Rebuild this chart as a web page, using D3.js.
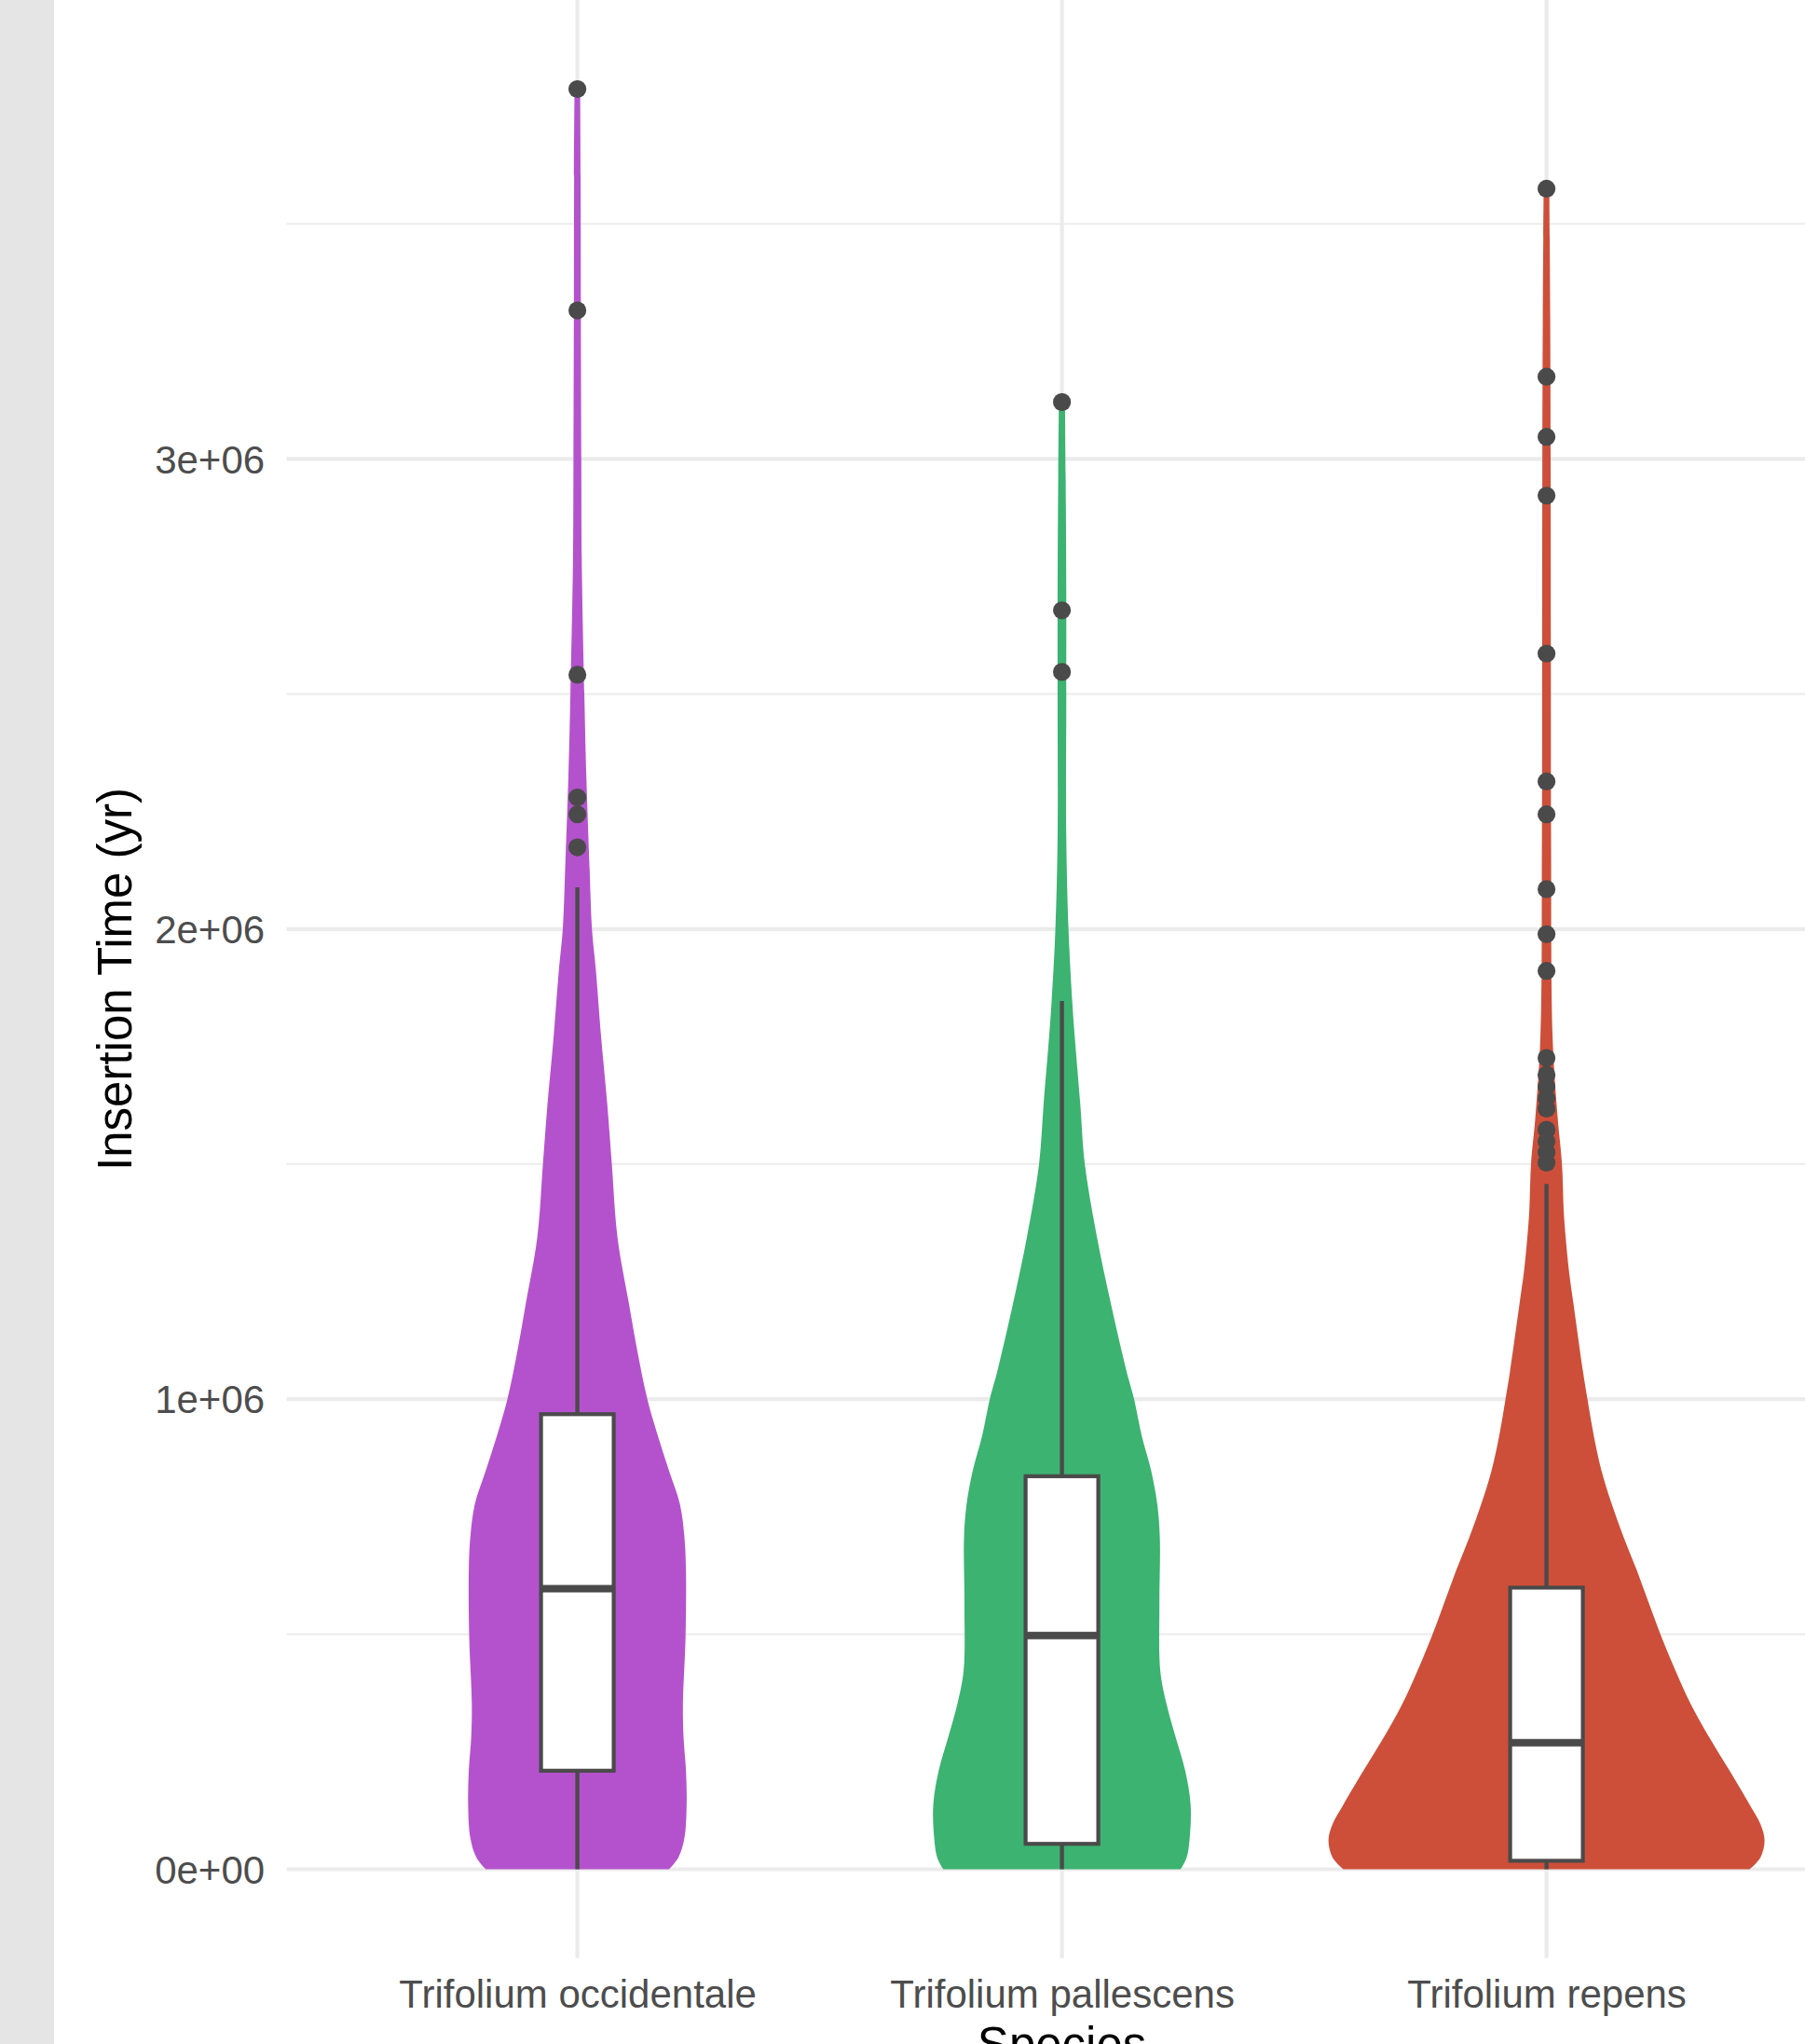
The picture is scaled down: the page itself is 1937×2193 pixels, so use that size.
<!DOCTYPE html>
<html>
<head>
<meta charset="utf-8">
<script src="https://cdn.jsdelivr.net/npm/d3@7"></script>
<style>
  html, body { margin: 0; padding: 0; background: #ffffff; }
  svg { display: block; }
  text { font-family: "Liberation Sans", Arial, sans-serif; }
</style>
</head>
<body>
<svg id="chart" width="1937" height="2193"></svg>
<script>
// ---- data (insertion times in years) ----
const species = ["Trifolium occidentale", "Trifolium pallescens", "Trifolium repens"];
const fills = ["#b452cd", "#3cb371", "#cd4f39"];

// kernel density profiles: [insertion time (Myr), relative density]
const densOccidentale = [
  [0, 0.420], [0.025, 0.463], [0.067, 0.491], [0.138, 0.501], [0.21, 0.498],
  [0.28, 0.487], [0.351, 0.484], [0.493, 0.496], [0.635, 0.498], [0.706, 0.491],
  [0.777, 0.470], [0.848, 0.420], [0.922, 0.369], [1.0, 0.321], [1.1, 0.276],
  [1.202, 0.237], [1.344, 0.184], [1.5, 0.158], [1.628, 0.137], [1.77, 0.109],
  [1.912, 0.085], [2.0, 0.067], [2.128, 0.056], [2.327, 0.041], [2.498, 0.032],
  [2.787, 0.020], [3.0, 0.018], [3.316, 0.016], [3.6, 0.015], [3.787, 0.013]
];
const densPallescens = [
  [0, 0.544], [0.025, 0.572], [0.067, 0.586], [0.138, 0.590], [0.21, 0.565],
  [0.28, 0.522], [0.351, 0.480], [0.422, 0.451], [0.564, 0.447], [0.706, 0.449],
  [0.777, 0.437], [0.848, 0.409], [0.922, 0.366], [1.0, 0.331], [1.06, 0.296],
  [1.202, 0.225], [1.344, 0.161], [1.5, 0.105], [1.628, 0.084], [1.77, 0.059],
  [1.841, 0.048], [2.0, 0.030], [2.194, 0.020], [2.5, 0.020], [2.7, 0.020],
  [2.9, 0.018], [3.121, 0.014]
];
const densRepens = [
  [0, 0.931], [0.025, 0.981], [0.061, 1.000], [0.096, 0.981], [0.138, 0.931],
  [0.21, 0.839], [0.28, 0.747], [0.351, 0.662], [0.422, 0.592], [0.493, 0.528],
  [0.564, 0.471], [0.635, 0.415], [0.706, 0.354], [0.777, 0.299], [0.848, 0.252],
  [0.922, 0.217], [1.0, 0.188], [1.06, 0.167], [1.202, 0.124], [1.273, 0.103],
  [1.344, 0.088], [1.4, 0.079], [1.5, 0.071], [1.6, 0.051], [1.77, 0.028],
  [2.194, 0.021], [2.6, 0.020], [3.0, 0.019], [3.3, 0.017], [3.575, 0.013]
];
const densities = [densOccidentale, densPallescens, densRepens];

// boxplot statistics (Myr)
const whiskerLow  = [0.0, 0.0, 0.0];
const q1          = [0.2096, 0.054, 0.018];
const median      = [0.597, 0.497, 0.269];
const q3          = [0.968, 0.836, 0.599];
const whiskerHigh = [2.089, 1.847, 1.458];

// outlying insertions (Myr)
const outOccidentale = [3.787, 3.316, 2.541, 2.280, 2.244, 2.174];
const outPallescens  = [3.121, 2.678, 2.547];
const outRepens      = [3.575, 3.175, 3.047, 2.922, 2.586, 2.314, 2.244, 2.085,
                        1.989, 1.911, 1.726, 1.690, 1.665, 1.640, 1.618,
                        1.573, 1.548, 1.525, 1.503];
const outliers = [outOccidentale, outPallescens, outRepens];

const yTicksMajor = [0, 1e6, 2e6, 3e6];
const yTicksMinor = [0.5e6, 1.5e6, 2.5e6, 3.5e6];

const MYR = 1e6;

// ---- layout ----
const svg = d3.select("#chart");
const W = 1937, H = 2193;
const panel = { left: 307.6, right: 1971.6, top: 0, bottom: 2101 };

svg.append("rect").attr("x", 0).attr("y", 0).attr("width", W).attr("height", H).attr("fill", "#ffffff");
svg.append("rect").attr("x", 0).attr("y", 0).attr("width", 58).attr("height", H).attr("fill", "#e5e5e5");

const x = d3.scalePoint().domain(species).range([panel.left, panel.right]).padding(0.6);
const step = x.step();

const allVals = densities.flat().map(d => d[0] * MYR).concat(outliers.flat().map(v => v * MYR));
const yMin = d3.min(allVals), yMax = d3.max(allVals);
const pad = (yMax - yMin) * 0.05;
const y = d3.scaleLinear().domain([yMin - pad, yMax + pad]).range([panel.bottom, panel.top]);

const maxDens = d3.max(densities.flat(), d => d[1]);
const halfW = d3.scaleLinear().domain([0, maxDens]).range([0, 0.45 * step]);

// ---- grid ----
const grid = svg.append("g");
grid.selectAll("line.minor").data(yTicksMinor).join("line")
  .attr("x1", panel.left).attr("x2", W)
  .attr("y1", d => y(d)).attr("y2", d => y(d))
  .attr("stroke", "#ededed").attr("stroke-width", 2.2);
grid.selectAll("line.major").data(yTicksMajor).join("line")
  .attr("x1", panel.left).attr("x2", W)
  .attr("y1", d => y(d)).attr("y2", d => y(d))
  .attr("stroke", "#ebebeb").attr("stroke-width", 4.2);
grid.selectAll("line.vert").data(species).join("line")
  .attr("x1", d => x(d)).attr("x2", d => x(d))
  .attr("y1", panel.top).attr("y2", panel.bottom)
  .attr("stroke", "#ebebeb").attr("stroke-width", 4.2);

// ---- axes ----
const sci = v => {
  const [m, e] = v.toExponential(0).split("e");
  const sign = e[0] === "-" ? "-" : "+";
  const digits = e.replace(/[+-]/, "").padStart(2, "0");
  return m + "e" + sign + digits;
};

const yAxis = svg.append("g")
  .attr("transform", `translate(${panel.left},0)`)
  .call(d3.axisLeft(y).tickValues(yTicksMajor).tickFormat(sci).tickSize(0).tickPadding(23.5));
yAxis.select(".domain").remove();
yAxis.selectAll("text")
  .attr("fill", "#4d4d4d").attr("font-size", 42)
  .attr("font-family", "Liberation Sans, Arial, sans-serif")
  .attr("dy", "0.35em");

const xAxis = svg.append("g")
  .attr("transform", `translate(0,${panel.bottom})`)
  .call(d3.axisBottom(x).tickSize(0).tickPadding(23.5));
xAxis.select(".domain").remove();
xAxis.selectAll("text")
  .attr("fill", "#4d4d4d").attr("font-size", 42)
  .attr("font-family", "Liberation Sans, Arial, sans-serif")
  .attr("dy", "0.71em");

svg.append("text")
  .attr("transform", `translate(141,${(panel.top + panel.bottom) / 2}) rotate(-90)`)
  .attr("text-anchor", "middle")
  .attr("font-size", 51).attr("fill", "#000000")
  .text("Insertion Time (yr)");

svg.append("text")
  .attr("x", (panel.left + panel.right) / 2).attr("y", 2211)
  .attr("text-anchor", "middle")
  .attr("font-size", 51).attr("fill", "#000000")
  .text("Species");

// ---- violins ----
const plot = svg.append("g");
species.forEach((sp, i) => {
  const cx = x(sp);
  const area = d3.area()
    .curve(d3.curveCatmullRom.alpha(0.5))
    .y(d => y(d[0] * MYR))
    .x0(d => cx - halfW(d[1]))
    .x1(d => cx + halfW(d[1]));
  plot.append("path")
    .datum(densities[i])
    .attr("d", area)
    .attr("fill", fills[i]);
});

// ---- boxplots ----
const boxHalf = 0.075 * step;
const ink = "#4a4a4a";
species.forEach((sp, i) => {
  const cx = x(sp);
  const g = plot.append("g");
  g.append("line")
    .attr("x1", cx).attr("x2", cx)
    .attr("y1", y(q3[i] * MYR)).attr("y2", y(whiskerHigh[i] * MYR))
    .attr("stroke", ink).attr("stroke-width", 4.4);
  g.append("line")
    .attr("x1", cx).attr("x2", cx)
    .attr("y1", y(q1[i] * MYR)).attr("y2", y(whiskerLow[i] * MYR))
    .attr("stroke", ink).attr("stroke-width", 4.4);
  g.append("rect")
    .attr("x", cx - boxHalf).attr("width", 2 * boxHalf)
    .attr("y", y(q3[i] * MYR)).attr("height", y(q1[i] * MYR) - y(q3[i] * MYR))
    .attr("fill", "#ffffff").attr("stroke", ink).attr("stroke-width", 4.2);
  g.append("line")
    .attr("x1", cx - boxHalf).attr("x2", cx + boxHalf)
    .attr("y1", y(median[i] * MYR)).attr("y2", y(median[i] * MYR))
    .attr("stroke", ink).attr("stroke-width", 8);
  g.selectAll("circle").data(outliers[i]).join("circle")
    .attr("cx", cx).attr("cy", d => y(d * MYR))
    .attr("r", 9.6).attr("fill", ink);
});
</script>
</body>
</html>
